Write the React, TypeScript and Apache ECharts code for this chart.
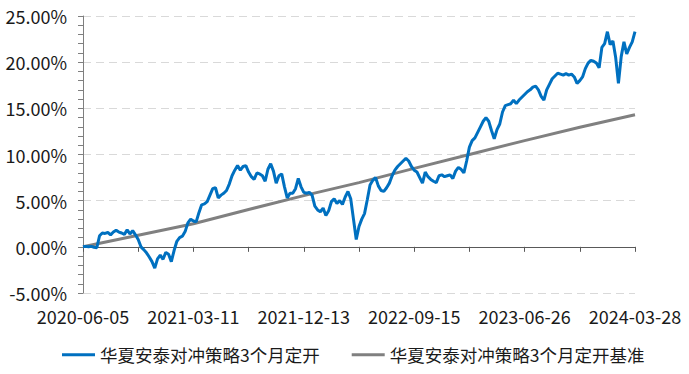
import React, { useEffect, useRef } from "react";
import * as echarts from "echarts";

// Labelled dates on the x axis (every 40th category)
const anchorDates = ["2020-06-05", "2021-03-11", "2021-12-13", "2022-09-15", "2023-06-26", "2024-03-28"];

// Fund cumulative return (%), one value per category
const fundValues = [
  0, 0.05, 0.0, 0.05, -0.05, -0.1, 1.2, 1.5, 1.45, 1.55,
  1.3, 1.6, 1.8, 1.6, 1.5, 1.35, 1.85, 1.4, 1.75, 1.3,
  0.8, 0.0, -0.3, -0.65, -1.1, -1.6, -2.3, -1.3, -0.9, -1.35,
  -0.6, -0.8, -1.6, -0.4, 0.6, 1.0, 1.15, 1.65, 2.6, 3.0,
  2.8, 2.7, 3.7, 4.55, 4.65, 4.9, 5.6, 6.3, 6.4, 5.3,
  5.6, 5.8, 6.1, 6.8, 7.7, 8.3, 8.8, 8.3, 8.7, 8.8,
  8.1, 7.6, 7.3, 8.0, 7.9, 7.7, 7.1, 8.4, 9.0, 8.2,
  6.9, 7.7, 7.9, 6.5, 5.3, 5.8, 5.8, 6.3, 7.4, 6.5,
  5.9, 5.8, 5.9, 5.6, 4.4, 4.0, 3.8, 4.2, 3.4, 3.9,
  4.9, 5.2, 4.7, 5.0, 4.6, 5.4, 6.0, 5.2, 3.0, 0.8,
  2.2, 3.0, 3.6, 5.1, 6.7, 7.2, 7.5, 6.6, 6.1, 6.0,
  6.4, 6.9, 7.7, 8.3, 8.7, 9.0, 9.3, 9.6, 9.3, 8.7,
  8.3, 8.1, 7.5, 6.9, 8.1, 7.6, 7.3, 7.1, 6.95, 7.7,
  7.8, 7.6, 7.7, 7.8, 7.4, 8.2, 8.6, 8.4, 8.0, 9.3,
  10.8, 11.5, 11.8, 12.4, 13.0, 13.6, 14.0, 13.6, 12.6, 11.7,
  12.7, 13.3, 14.6, 15.3, 15.4, 15.5, 15.9, 15.5, 15.9, 16.2,
  16.5, 16.8, 17.0, 17.3, 17.4, 17.0, 16.3, 15.9, 17.0, 17.6,
  18.2, 18.5, 18.8, 18.7, 18.6, 18.75, 18.6, 18.7, 18.4, 17.7,
  18.0, 18.4, 19.3, 19.9, 20.2, 20.1, 19.9, 19.4, 21.6, 22.0,
  23.3, 21.9, 22.3, 20.5, 17.7, 20.6, 22.2, 20.9, 21.6, 22.2,
  23.3,
];

// Benchmark cumulative return (%), read at every 20th category
const benchmarkIndex = [0, 20, 40, 60, 80, 100, 120, 140, 160, 180, 200];
const benchmarkValues = [0, 1.25, 2.5, 4.05, 5.55, 6.95, 8.5, 10.0, 11.5, 12.95, 14.3];

const seriesNames = ["华夏安泰对冲策略3个月定开", "华夏安泰对冲策略3个月定开基准"];
const seriesColors = ["#0070C0", "#808080"];

const yTicks = { min: -5, max: 25, interval: 5 };

function fmt(d: Date): string {
  const p = (n: number) => (n < 10 ? "0" + n : "" + n);
  return d.getUTCFullYear() + "-" + p(d.getUTCMonth() + 1) + "-" + p(d.getUTCDate());
}

function buildCategories(): string[] {
  const per = (fundValues.length - 1) / (anchorDates.length - 1);
  const out: string[] = [];
  for (let k = 0; k < anchorDates.length - 1; k++) {
    const a = Date.parse(anchorDates[k] + "T00:00:00Z");
    const b = Date.parse(anchorDates[k + 1] + "T00:00:00Z");
    for (let j = 0; j < per; j++) {
      if (j === 0) out.push(anchorDates[k]);
      else out.push(fmt(new Date(a + ((b - a) * j) / per)) + "#" + (out.length));
    }
  }
  out.push(anchorDates[anchorDates.length - 1]);
  return out;
}

export default function App() {
  const ref = useRef<HTMLDivElement>(null);
  useEffect(() => {
    if (!ref.current) return;
    const chart = echarts.init(ref.current, undefined, { renderer: "svg" });
    const categories = buildCategories();
    const bench: (number | null)[] = categories.map(() => null);
    benchmarkIndex.forEach((idx, i) => (bench[idx] = benchmarkValues[i]));
    const font = '"Noto Sans CJK SC", "Microsoft YaHei", sans-serif';

    chart.setOption({
      animation: false,
      grid: { left: 83, right: 54, top: 16, bottom: 81, containLabel: false },
      legend: {
        left: 62,
        top: 346,
        padding: 0,
        itemGap: 32,
        itemWidth: 33,
        itemHeight: 3,
        icon: "rect",
        textStyle: { fontFamily: font, fontSize: 17.5, color: "#1a1a1a" },
        data: seriesNames,
      },
      xAxis: {
        type: "category",
        boundaryGap: false,
        data: categories,
        axisLine: { onZero: true, lineStyle: { color: "#595959", width: 1 } },
        axisTick: { show: true, interval: 19, length: 5, lineStyle: { color: "#595959" } },
        axisLabel: {
          interval: 39,
          margin: 14,
          fontFamily: font,
          fontSize: 18,
          color: "#1a1a1a",
          formatter: (v: string) => v.split("#")[0],
        },
        splitLine: { show: false },
      },
      yAxis: {
        type: "value",
        min: yTicks.min,
        max: yTicks.max,
        interval: yTicks.interval,
        axisLine: { show: true, lineStyle: { color: "#7f7f7f" } },
        axisTick: { show: true, length: 5, lineStyle: { color: "#7f7f7f" } },
        minorTick: { show: true, splitNumber: 5, length: 5, lineStyle: { color: "#7f7f7f" } },
        axisLabel: {
          margin: 16,
          fontFamily: font,
          fontSize: 18,
          color: "#1a1a1a",
          formatter: (v: number) => v.toFixed(2) + "%",
        },
        splitLine: { show: true, lineStyle: { color: "#d9d9d9", type: [8, 5], width: 1 } },
      },
      series: [
        {
          name: seriesNames[1],
          type: "line",
          data: bench,
          connectNulls: true,
          showSymbol: false,
          symbol: "none",
          z: 2,
          lineStyle: { color: seriesColors[1], width: 3 },
          itemStyle: { color: seriesColors[1] },
        },
        {
          name: seriesNames[0],
          type: "line",
          data: fundValues,
          showSymbol: false,
          symbol: "none",
          z: 3,
          lineStyle: { color: seriesColors[0], width: 3 },
          itemStyle: { color: seriesColors[0] },
        },
      ],
    });
    return () => chart.dispose();
  }, []);
  return <div ref={ref} style={{ width: 689, height: 374, position: "absolute", left: 0, top: 0 }} />;
}
